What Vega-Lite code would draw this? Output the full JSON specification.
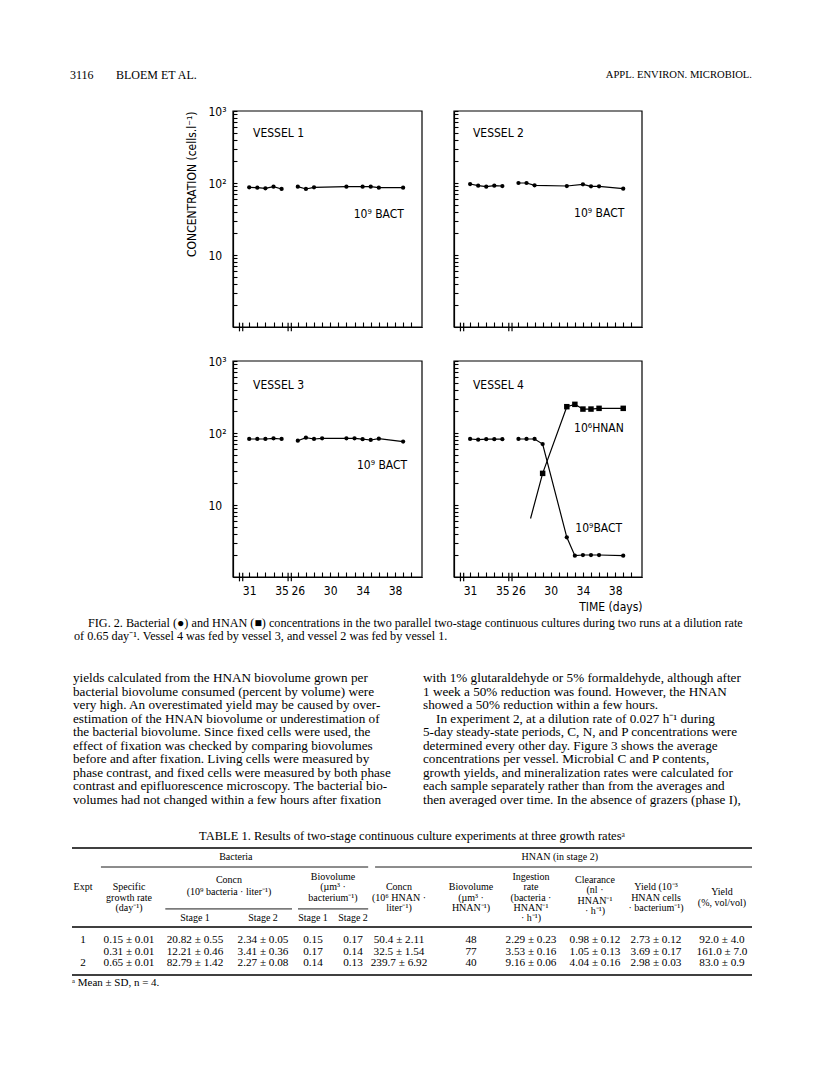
{
  "$schema": "https://vega.github.io/schema/vega-lite/v6.json",
  "background": "white",
  "padding": 0,
  "spacing": 0,
  "bounds": "flush",
  "config": {
    "view": {"stroke": null},
    "axis": {"domainColor": "black", "tickColor": "black", "labelColor": "black", "titleColor": "black", "grid": false, "domainWidth": 1.2, "tickWidth": 1.1},
    "text": {"color": "black"}
  },
  "datasets": {
    "hdr": [
      {"k": 0, "text": "3116"},
      {"k": 1, "text": "BLOEM ET AL."},
      {"k": 2, "text": "APPL. ENVIRON. MICROBIOL."}
    ],
    "one": [{"id": 1}],
    "series": [
      {"v": 1, "run": 1, "s": "BACT", "day": 31, "c": 87.1},
      {"v": 1, "run": 1, "s": "BACT", "day": 32, "c": 86.1},
      {"v": 1, "run": 1, "s": "BACT", "day": 33, "c": 84.4},
      {"v": 1, "run": 1, "s": "BACT", "day": 34, "c": 88.9},
      {"v": 1, "run": 1, "s": "BACT", "day": 35, "c": 82.6},
      {"v": 1, "run": 2, "s": "BACT", "day": 26, "c": 88.9},
      {"v": 1, "run": 2, "s": "BACT", "day": 27, "c": 82.6},
      {"v": 1, "run": 2, "s": "BACT", "day": 28, "c": 87.1},
      {"v": 1, "run": 2, "s": "BACT", "day": 32, "c": 88.9},
      {"v": 1, "run": 2, "s": "BACT", "day": 34, "c": 88.9},
      {"v": 1, "run": 2, "s": "BACT", "day": 35, "c": 88.9},
      {"v": 1, "run": 2, "s": "BACT", "day": 36, "c": 86.1},
      {"v": 1, "run": 2, "s": "BACT", "day": 39, "c": 86.1},
      {"v": 2, "run": 1, "s": "BACT", "day": 31, "c": 96.8},
      {"v": 2, "run": 1, "s": "BACT", "day": 32, "c": 91.8},
      {"v": 2, "run": 1, "s": "BACT", "day": 33, "c": 88.9},
      {"v": 2, "run": 1, "s": "BACT", "day": 34, "c": 91.8},
      {"v": 2, "run": 1, "s": "BACT", "day": 35, "c": 90.8},
      {"v": 2, "run": 2, "s": "BACT", "day": 26, "c": 100},
      {"v": 2, "run": 2, "s": "BACT", "day": 27, "c": 100},
      {"v": 2, "run": 2, "s": "BACT", "day": 28, "c": 92.9},
      {"v": 2, "run": 2, "s": "BACT", "day": 32, "c": 90.8},
      {"v": 2, "run": 2, "s": "BACT", "day": 34, "c": 95.9},
      {"v": 2, "run": 2, "s": "BACT", "day": 35, "c": 89.9},
      {"v": 2, "run": 2, "s": "BACT", "day": 36, "c": 89.9},
      {"v": 2, "run": 2, "s": "BACT", "day": 39, "c": 83.4},
      {"v": 3, "run": 1, "s": "BACT", "day": 31, "c": 82.6},
      {"v": 3, "run": 1, "s": "BACT", "day": 32, "c": 82.6},
      {"v": 3, "run": 1, "s": "BACT", "day": 33, "c": 82.6},
      {"v": 3, "run": 1, "s": "BACT", "day": 34, "c": 84.4},
      {"v": 3, "run": 1, "s": "BACT", "day": 35, "c": 82.6},
      {"v": 3, "run": 2, "s": "BACT", "day": 26, "c": 78.2},
      {"v": 3, "run": 2, "s": "BACT", "day": 27, "c": 86.1},
      {"v": 3, "run": 2, "s": "BACT", "day": 28, "c": 82.6},
      {"v": 3, "run": 2, "s": "BACT", "day": 29, "c": 84.4},
      {"v": 3, "run": 2, "s": "BACT", "day": 32, "c": 84.4},
      {"v": 3, "run": 2, "s": "BACT", "day": 33, "c": 84.4},
      {"v": 3, "run": 2, "s": "BACT", "day": 34, "c": 82},
      {"v": 3, "run": 2, "s": "BACT", "day": 35, "c": 80},
      {"v": 3, "run": 2, "s": "BACT", "day": 36, "c": 83.4},
      {"v": 3, "run": 2, "s": "BACT", "day": 39, "c": 75.9},
      {"v": 4, "run": 1, "s": "BACT", "day": 31, "c": 82.6},
      {"v": 4, "run": 1, "s": "BACT", "day": 32, "c": 80.8},
      {"v": 4, "run": 1, "s": "BACT", "day": 33, "c": 82},
      {"v": 4, "run": 1, "s": "BACT", "day": 34, "c": 82},
      {"v": 4, "run": 1, "s": "BACT", "day": 35, "c": 82},
      {"v": 4, "run": 2, "s": "BACT", "day": 26, "c": 82.6},
      {"v": 4, "run": 2, "s": "BACT", "day": 27, "c": 82.6},
      {"v": 4, "run": 2, "s": "BACT", "day": 28, "c": 82.6},
      {"v": 4, "run": 2, "s": "BACT", "day": 29, "c": 70.3},
      {"v": 4, "run": 2, "s": "BACT", "day": 32, "c": 3.56},
      {"v": 4, "run": 2, "s": "BACT", "day": 33, "c": 1.98},
      {"v": 4, "run": 2, "s": "BACT", "day": 34, "c": 2.02},
      {"v": 4, "run": 2, "s": "BACT", "day": 35, "c": 2.02},
      {"v": 4, "run": 2, "s": "BACT", "day": 36, "c": 2.02},
      {"v": 4, "run": 2, "s": "BACT", "day": 39, "c": 1.98},
      {"v": 4, "run": 2, "s": "HNAN", "day": 27.5, "c": 6.5},
      {"v": 4, "run": 2, "s": "HNAN", "day": 29, "c": 27.5},
      {"v": 4, "run": 2, "s": "HNAN", "day": 32, "c": 232},
      {"v": 4, "run": 2, "s": "HNAN", "day": 33, "c": 250},
      {"v": 4, "run": 2, "s": "HNAN", "day": 34, "c": 215},
      {"v": 4, "run": 2, "s": "HNAN", "day": 35, "c": 215},
      {"v": 4, "run": 2, "s": "HNAN", "day": 36, "c": 220},
      {"v": 4, "run": 2, "s": "HNAN", "day": 39, "c": 220}
    ],
    "ann": [
      {"v": 1, "text": "VESSEL 1", "d": 20.47, "c": 494},
      {"v": 1, "text": "10⁹ BACT", "d": 32.9, "c": 37},
      {"v": 2, "text": "VESSEL 2", "d": 20.35, "c": 494},
      {"v": 2, "text": "10⁹ BACT", "d": 32.9, "c": 38},
      {"v": 3, "text": "VESSEL 3", "d": 20.47, "c": 464},
      {"v": 3, "text": "10⁹ BACT", "d": 33.3, "c": 36},
      {"v": 4, "text": "VESSEL 4", "d": 20.35, "c": 464},
      {"v": 4, "text": "10⁶HNAN", "d": 32.9, "c": 117},
      {"v": 4, "text": "10⁹BACT", "d": 33.06, "c": 4.8}
    ],
    "brk": [{"b": 29.8}, {"b": 30.2}, {"b": 35.8}, {"b": 36.2}],
    "cap": [
      {"ln": 1, "text": "FIG. 2. Bacterial (●) and HNAN (■) concentrations in the two parallel two-stage continuous cultures during two runs at a dilution rate"},
      {"ln": 2, "text": "of 0.65 day⁻¹. Vessel 4 was fed by vessel 3, and vessel 2 was fed by vessel 1."}
    ],
    "body": [
      {"col": 0, "ln": 1, "text": "yields calculated from the HNAN biovolume grown per"},
      {"col": 0, "ln": 2, "text": "bacterial biovolume consumed (percent by volume) were"},
      {"col": 0, "ln": 3, "text": "very high. An overestimated yield may be caused by over-"},
      {"col": 0, "ln": 4, "text": "estimation of the HNAN biovolume or underestimation of"},
      {"col": 0, "ln": 5, "text": "the bacterial biovolume. Since fixed cells were used, the"},
      {"col": 0, "ln": 6, "text": "effect of fixation was checked by comparing biovolumes"},
      {"col": 0, "ln": 7, "text": "before and after fixation. Living cells were measured by"},
      {"col": 0, "ln": 8, "text": "phase contrast, and fixed cells were measured by both phase"},
      {"col": 0, "ln": 9, "text": "contrast and epifluorescence microscopy. The bacterial bio-"},
      {"col": 0, "ln": 10, "text": "volumes had not changed within a few hours after fixation"},
      {"col": 1, "ln": 1, "text": "with 1% glutaraldehyde or 5% formaldehyde, although after"},
      {"col": 1, "ln": 2, "text": "1 week a 50% reduction was found. However, the HNAN"},
      {"col": 1, "ln": 3, "text": "showed a 50% reduction within a few hours."},
      {"col": 1, "ln": 4, "text": "In experiment 2, at a dilution rate of 0.027 h⁻¹ during"},
      {"col": 1, "ln": 5, "text": "5-day steady-state periods, C, N, and P concentrations were"},
      {"col": 1, "ln": 6, "text": "determined every other day. Figure 3 shows the average"},
      {"col": 1, "ln": 7, "text": "concentrations per vessel. Microbial C and P contents,"},
      {"col": 1, "ln": 8, "text": "growth yields, and mineralization rates were calculated for"},
      {"col": 1, "ln": 9, "text": "each sample separately rather than from the averages and"},
      {"col": 1, "ln": 10, "text": "then averaged over time. In the absence of grazers (phase I),"}
    ],
    "tbl": [
      {"kind": "title", "r": 0, "c": 6.18, "text": "TABLE 1. Results of two-stage continuous culture experiments at three growth ratesᵃ"},
      {"kind": "group", "r": 2, "c": 2.6, "text": "Bacteria"},
      {"kind": "group", "r": 2, "c": 8.45, "text": "HNAN (in stage 2)"},
      {"kind": "head", "r": 5, "c": 0, "text": "Expt"},
      {"kind": "head", "r": 5, "c": 1, "text": "Specific"},
      {"kind": "head", "r": 6, "c": 1, "text": "growth rate"},
      {"kind": "head", "r": 7, "c": 1, "text": "(day⁻¹)"},
      {"kind": "head", "r": 4.3, "c": 2.5, "text": "Concn"},
      {"kind": "head", "r": 5.5, "c": 2.5, "text": "(10⁹ bacteria · liter⁻¹)"},
      {"kind": "head", "r": 4, "c": 4.5, "text": "Biovolume"},
      {"kind": "head", "r": 5, "c": 4.5, "text": "(µm³ ·"},
      {"kind": "head", "r": 6, "c": 4.5, "text": "bacterium⁻¹)"},
      {"kind": "head", "r": 8, "c": 2, "text": "Stage 1"},
      {"kind": "head", "r": 8, "c": 3, "text": "Stage 2"},
      {"kind": "head", "r": 8, "c": 4, "text": "Stage 1"},
      {"kind": "head", "r": 8, "c": 5, "text": "Stage 2"},
      {"kind": "head", "r": 5, "c": 6, "text": "Concn"},
      {"kind": "head", "r": 6, "c": 6, "text": "(10⁶ HNAN ·"},
      {"kind": "head", "r": 7, "c": 6, "text": "liter⁻¹)"},
      {"kind": "head", "r": 5, "c": 7, "text": "Biovolume"},
      {"kind": "head", "r": 6, "c": 7, "text": "(µm³ ·"},
      {"kind": "head", "r": 7, "c": 7, "text": "HNAN⁻¹)"},
      {"kind": "head", "r": 4, "c": 8, "text": "Ingestion"},
      {"kind": "head", "r": 5, "c": 8, "text": "rate"},
      {"kind": "head", "r": 6, "c": 8, "text": "(bacteria ·"},
      {"kind": "head", "r": 7, "c": 8, "text": "HNAN⁻¹"},
      {"kind": "head", "r": 8, "c": 8, "text": "· h⁻¹)"},
      {"kind": "head", "r": 4.3, "c": 9, "text": "Clearance"},
      {"kind": "head", "r": 5.3, "c": 9, "text": "(nl ·"},
      {"kind": "head", "r": 6.3, "c": 9, "text": "HNAN⁻¹"},
      {"kind": "head", "r": 7.3, "c": 9, "text": "· h⁻¹)"},
      {"kind": "head", "r": 5, "c": 10, "text": "Yield (10⁻³"},
      {"kind": "head", "r": 6, "c": 10, "text": "HNAN cells"},
      {"kind": "head", "r": 7, "c": 10, "text": "· bacterium⁻¹)"},
      {"kind": "head", "r": 5.5, "c": 11, "text": "Yield"},
      {"kind": "head", "r": 6.5, "c": 11, "text": "(%, vol/vol)"},
      {"kind": "data", "r": 10, "c": 0, "text": "1"},
      {"kind": "data", "r": 10, "c": 1, "text": "0.15 ± 0.01"},
      {"kind": "data", "r": 10, "c": 2, "text": "20.82 ± 0.55"},
      {"kind": "data", "r": 10, "c": 3, "text": "2.34 ± 0.05"},
      {"kind": "data", "r": 10, "c": 4, "text": "0.15"},
      {"kind": "data", "r": 10, "c": 5, "text": "0.17"},
      {"kind": "data", "r": 10, "c": 6, "text": "50.4 ± 2.11"},
      {"kind": "data", "r": 10, "c": 7, "text": "48"},
      {"kind": "data", "r": 10, "c": 8, "text": "2.29 ± 0.23"},
      {"kind": "data", "r": 10, "c": 9, "text": "0.98 ± 0.12"},
      {"kind": "data", "r": 10, "c": 10, "text": "2.73 ± 0.12"},
      {"kind": "data", "r": 10, "c": 11, "text": "92.0 ± 4.0"},
      {"kind": "data", "r": 11, "c": 1, "text": "0.31 ± 0.01"},
      {"kind": "data", "r": 11, "c": 2, "text": "12.21 ± 0.46"},
      {"kind": "data", "r": 11, "c": 3, "text": "3.41 ± 0.36"},
      {"kind": "data", "r": 11, "c": 4, "text": "0.17"},
      {"kind": "data", "r": 11, "c": 5, "text": "0.14"},
      {"kind": "data", "r": 11, "c": 6, "text": "32.5 ± 1.54"},
      {"kind": "data", "r": 11, "c": 7, "text": "77"},
      {"kind": "data", "r": 11, "c": 8, "text": "3.53 ± 0.16"},
      {"kind": "data", "r": 11, "c": 9, "text": "1.05 ± 0.13"},
      {"kind": "data", "r": 11, "c": 10, "text": "3.69 ± 0.17"},
      {"kind": "data", "r": 11, "c": 11, "text": "161.0 ± 7.0"},
      {"kind": "data", "r": 12, "c": 0, "text": "2"},
      {"kind": "data", "r": 12, "c": 1, "text": "0.65 ± 0.01"},
      {"kind": "data", "r": 12, "c": 2, "text": "82.79 ± 1.42"},
      {"kind": "data", "r": 12, "c": 3, "text": "2.27 ± 0.08"},
      {"kind": "data", "r": 12, "c": 4, "text": "0.14"},
      {"kind": "data", "r": 12, "c": 5, "text": "0.13"},
      {"kind": "data", "r": 12, "c": 6, "text": "239.7 ± 6.92"},
      {"kind": "data", "r": 12, "c": 7, "text": "40"},
      {"kind": "data", "r": 12, "c": 8, "text": "9.16 ± 0.06"},
      {"kind": "data", "r": 12, "c": 9, "text": "4.04 ± 0.16"},
      {"kind": "data", "r": 12, "c": 10, "text": "2.98 ± 0.03"},
      {"kind": "data", "r": 12, "c": 11, "text": "83.0 ± 0.9"},
      {"kind": "foot", "r": 14, "c": -1, "text": "ᵃ Mean ± SD, n = 4."}
    ],
    "rules": [
      {"kind": "full", "r": 1, "c": -1, "c2": 12},
      {"kind": "full", "r": 9, "c": -1, "c2": 12},
      {"kind": "full", "r": 13, "c": -1, "c2": 12},
      {"kind": "part", "r": 3, "c": 0.39, "c2": 5.33},
      {"kind": "part", "r": 3, "c": 5.48, "c2": 12},
      {"kind": "part", "r": 7.1, "c": 1.55, "c2": 3.58},
      {"kind": "part", "r": 7.1, "c": 3.7, "c2": 5.33}
    ]
  },
  "vconcat": [
    {
      "width": 816, "height": 111,
      "data": {"name": "hdr"},
      "encoding": {
        "x": {"field": "k", "type": "quantitative", "scale": {"domain": [0, 1, 2], "range": [70, 116, 752]}, "axis": null},
        "y": {"datum": 0, "type": "quantitative", "scale": {"domain": [0, 1], "range": [75, 100]}, "axis": null},
        "text": {"field": "text"}
      },
      "layer": [
        {"transform": [{"filter": "datum.k < 2"}], "mark": {"type": "text", "align": "left", "baseline": "middle", "font": "Liberation Serif", "fontSize": 12}},
        {"transform": [{"filter": "datum.k == 2"}], "mark": {"type": "text", "align": "right", "baseline": "middle", "font": "Liberation Serif", "fontSize": 10.6}}
      ]
    },
    {
      "width": 816, "height": 216,
      "layer": [
        {"data": {"name": "one"},
          "mark": {"type": "rect", "filled": false, "color": "black", "strokeWidth": 1.2},
          "encoding": {
            "x": {"datum": 29, "type": "quantitative", "scale": {"domain": [29, 52.33], "range": [233, 422], "nice": false, "zero": false},
              "axis": {"orient": "bottom", "values": [31,32,33,34,35], "labels": false, "tickSize": -5, "title": null}},
            "x2": {"datum": 52.33},
            "y": {"datum": 1, "type": "quantitative", "scale": {"type": "log", "domain": [1, 1000], "nice": false},
              "axis": {"orient": "left", "offset": -233, "values": [1,2,3,4,5,6,7,8,9,10,20,30,40,50,60,70,80,90,100,200,300,400,500,600,700,800,900,1000],
                "labelExpr": "datum.value == 10 ? '10' : datum.value == 100 ? '10²' : datum.value == 1000 ? '10³' : ''",
                "tickSize": -4, "labelAlign": "left", "labelPadding": 29, "labelFont": "DejaVu Sans Condensed, DejaVu Sans", "labelFontSize": 12,
                "labelOverlap": false, "labelFlush": false, "labelBound": false,
                "title": "CONCENTRATION (cells.l⁻¹)", "titleFont": "DejaVu Sans Condensed, DejaVu Sans", "titleFontSize": 12, "titleFontWeight": "normal", "titleAnchor": "end", "titlePadding": 10}},
            "y2": {"datum": 1000}
          }},
        {"data": {"name": "series"}, "transform": [{"filter": "datum.v == 1 && datum.run == 1"}],
          "encoding": {
            "x": {"field": "day", "type": "quantitative", "scale": {"domain": [29, 52.33], "range": [233, 422], "nice": false, "zero": false}, "axis": null},
            "y": {"field": "c", "type": "quantitative", "scale": {"type": "log", "domain": [1, 1000], "nice": false}, "axis": null}},
          "layer": [
            {"mark": {"type": "line", "color": "black", "strokeWidth": 1.2}},
            {"mark": {"type": "point", "shape": "circle", "filled": true, "color": "black", "opacity": 1, "size": 18}}
          ]},
        {"data": {"name": "series"}, "transform": [{"filter": "datum.v == 1 && datum.run == 2"}],
          "encoding": {
            "x": {"field": "day", "type": "quantitative", "scale": {"domain": [18, 41.33], "range": [233, 422], "nice": false, "zero": false},
              "axis": {"orient": "bottom", "values": [26,27,28,29,30,31,32,33,34,35,36,37,38,39,40], "labels": false, "tickSize": -5, "title": null}},
            "y": {"field": "c", "type": "quantitative", "scale": {"type": "log", "domain": [1, 1000], "nice": false}, "axis": null}},
          "layer": [
            {"mark": {"type": "line", "color": "black", "strokeWidth": 1.2}},
            {"mark": {"type": "point", "shape": "circle", "filled": true, "color": "black", "opacity": 1, "size": 18}}
          ]},
        {"data": {"name": "ann"}, "transform": [{"filter": "datum.v == 1"}],
          "mark": {"type": "text", "align": "left", "baseline": "middle", "font": "DejaVu Sans Condensed, DejaVu Sans", "fontSize": 12},
          "encoding": {
            "x": {"field": "d", "type": "quantitative", "scale": {"domain": [18, 41.33], "range": [233, 422], "nice": false, "zero": false}, "axis": null},
            "y": {"field": "c", "type": "quantitative", "scale": {"type": "log", "domain": [1, 1000], "nice": false}, "axis": null},
            "text": {"field": "text"}}},
        {"data": {"name": "brk"},
          "mark": {"type": "rule", "color": "black", "strokeWidth": 1.2},
          "encoding": {
            "x": {"field": "b", "type": "quantitative", "scale": {"domain": [29, 52.33], "range": [233, 422], "nice": false, "zero": false}, "axis": null},
            "y": {"datum": 0.87, "type": "quantitative", "scale": {"type": "log", "domain": [1, 1000], "nice": false}, "axis": null},
            "y2": {"datum": 1.15}}},
        {"data": {"name": "one"},
          "mark": {"type": "rect", "filled": false, "color": "black", "strokeWidth": 1.2},
          "encoding": {
            "x": {"datum": 29, "type": "quantitative", "scale": {"domain": [29, 52.33], "range": [454, 642], "nice": false, "zero": false},
              "axis": {"orient": "bottom", "values": [31,32,33,34,35], "labels": false, "tickSize": -5, "title": null}},
            "x2": {"datum": 52.33},
            "y": {"datum": 1, "type": "quantitative", "scale": {"type": "log", "domain": [1, 1000], "nice": false},
              "axis": {"orient": "left", "offset": -454, "values": [1,2,3,4,5,6,7,8,9,10,20,30,40,50,60,70,80,90,100,200,300,400,500,600,700,800,900,1000],
                "labels": false, "tickSize": -4, "title": null}},
            "y2": {"datum": 1000}
          }},
        {"data": {"name": "series"}, "transform": [{"filter": "datum.v == 2 && datum.run == 1"}],
          "encoding": {
            "x": {"field": "day", "type": "quantitative", "scale": {"domain": [29, 52.33], "range": [454, 642], "nice": false, "zero": false}, "axis": null},
            "y": {"field": "c", "type": "quantitative", "scale": {"type": "log", "domain": [1, 1000], "nice": false}, "axis": null}},
          "layer": [
            {"mark": {"type": "line", "color": "black", "strokeWidth": 1.2}},
            {"mark": {"type": "point", "shape": "circle", "filled": true, "color": "black", "opacity": 1, "size": 18}}
          ]},
        {"data": {"name": "series"}, "transform": [{"filter": "datum.v == 2 && datum.run == 2"}],
          "encoding": {
            "x": {"field": "day", "type": "quantitative", "scale": {"domain": [18, 41.33], "range": [454, 642], "nice": false, "zero": false},
              "axis": {"orient": "bottom", "values": [26,27,28,29,30,31,32,33,34,35,36,37,38,39,40], "labels": false, "tickSize": -5, "title": null}},
            "y": {"field": "c", "type": "quantitative", "scale": {"type": "log", "domain": [1, 1000], "nice": false}, "axis": null}},
          "layer": [
            {"mark": {"type": "line", "color": "black", "strokeWidth": 1.2}},
            {"mark": {"type": "point", "shape": "circle", "filled": true, "color": "black", "opacity": 1, "size": 18}}
          ]},
        {"data": {"name": "ann"}, "transform": [{"filter": "datum.v == 2"}],
          "mark": {"type": "text", "align": "left", "baseline": "middle", "font": "DejaVu Sans Condensed, DejaVu Sans", "fontSize": 12},
          "encoding": {
            "x": {"field": "d", "type": "quantitative", "scale": {"domain": [18, 41.33], "range": [454, 642], "nice": false, "zero": false}, "axis": null},
            "y": {"field": "c", "type": "quantitative", "scale": {"type": "log", "domain": [1, 1000], "nice": false}, "axis": null},
            "text": {"field": "text"}}},
        {"data": {"name": "brk"},
          "mark": {"type": "rule", "color": "black", "strokeWidth": 1.2},
          "encoding": {
            "x": {"field": "b", "type": "quantitative", "scale": {"domain": [29, 52.33], "range": [454, 642], "nice": false, "zero": false}, "axis": null},
            "y": {"datum": 0.87, "type": "quantitative", "scale": {"type": "log", "domain": [1, 1000], "nice": false}, "axis": null},
            "y2": {"datum": 1.15}}}
      ],
      "resolve": {"scale": {"x": "independent", "y": "independent"}, "axis": {"x": "independent", "y": "independent"}}
    },
    {"width": 816, "height": 34, "data": {"values": []}, "mark": "point"},
    {
      "width": 816, "height": 216,
      "layer": [
        {"data": {"name": "one"},
          "mark": {"type": "rect", "filled": false, "color": "black", "strokeWidth": 1.2},
          "encoding": {
            "x": {"datum": 29, "type": "quantitative", "scale": {"domain": [29, 52.33], "range": [233, 422], "nice": false, "zero": false},
              "axis": {"orient": "bottom", "values": [31,32,33,34,35], "labelExpr": "datum.value == 31 || datum.value == 35 ? datum.label : ''",
                "tickSize": -5, "labelPadding": 13, "labelFont": "DejaVu Sans Condensed, DejaVu Sans", "labelFontSize": 12, "labelFlush": false, "labelOverlap": false, "title": null}},
            "x2": {"datum": 52.33},
            "y": {"datum": 1, "type": "quantitative", "scale": {"type": "log", "domain": [1, 1000], "nice": false},
              "axis": {"orient": "left", "offset": -233, "values": [1,2,3,4,5,6,7,8,9,10,20,30,40,50,60,70,80,90,100,200,300,400,500,600,700,800,900,1000],
                "labelExpr": "datum.value == 10 ? '10' : datum.value == 100 ? '10²' : datum.value == 1000 ? '10³' : ''",
                "tickSize": -4, "labelAlign": "left", "labelPadding": 29, "labelFont": "DejaVu Sans Condensed, DejaVu Sans", "labelFontSize": 12,
                "labelOverlap": false, "labelFlush": false, "labelBound": false, "title": null}},
            "y2": {"datum": 1000}
          }},
        {"data": {"name": "series"}, "transform": [{"filter": "datum.v == 3 && datum.run == 1"}],
          "encoding": {
            "x": {"field": "day", "type": "quantitative", "scale": {"domain": [29, 52.33], "range": [233, 422], "nice": false, "zero": false}, "axis": null},
            "y": {"field": "c", "type": "quantitative", "scale": {"type": "log", "domain": [1, 1000], "nice": false}, "axis": null}},
          "layer": [
            {"mark": {"type": "line", "color": "black", "strokeWidth": 1.2}},
            {"mark": {"type": "point", "shape": "circle", "filled": true, "color": "black", "opacity": 1, "size": 18}}
          ]},
        {"data": {"name": "series"}, "transform": [{"filter": "datum.v == 3 && datum.run == 2"}],
          "encoding": {
            "x": {"field": "day", "type": "quantitative", "scale": {"domain": [18, 41.33], "range": [233, 422], "nice": false, "zero": false},
              "axis": {"orient": "bottom", "values": [26,27,28,29,30,31,32,33,34,35,36,37,38,39,40], "labelExpr": "(datum.value - 26) % 4 == 0 ? datum.label : ''",
                "tickSize": -5, "labelPadding": 13, "labelFont": "DejaVu Sans Condensed, DejaVu Sans", "labelFontSize": 12, "labelFlush": false, "labelOverlap": false, "title": null}},
            "y": {"field": "c", "type": "quantitative", "scale": {"type": "log", "domain": [1, 1000], "nice": false}, "axis": null}},
          "layer": [
            {"mark": {"type": "line", "color": "black", "strokeWidth": 1.2}},
            {"mark": {"type": "point", "shape": "circle", "filled": true, "color": "black", "opacity": 1, "size": 18}}
          ]},
        {"data": {"name": "ann"}, "transform": [{"filter": "datum.v == 3"}],
          "mark": {"type": "text", "align": "left", "baseline": "middle", "font": "DejaVu Sans Condensed, DejaVu Sans", "fontSize": 12},
          "encoding": {
            "x": {"field": "d", "type": "quantitative", "scale": {"domain": [18, 41.33], "range": [233, 422], "nice": false, "zero": false}, "axis": null},
            "y": {"field": "c", "type": "quantitative", "scale": {"type": "log", "domain": [1, 1000], "nice": false}, "axis": null},
            "text": {"field": "text"}}},
        {"data": {"name": "brk"},
          "mark": {"type": "rule", "color": "black", "strokeWidth": 1.2},
          "encoding": {
            "x": {"field": "b", "type": "quantitative", "scale": {"domain": [29, 52.33], "range": [233, 422], "nice": false, "zero": false}, "axis": null},
            "y": {"datum": 0.87, "type": "quantitative", "scale": {"type": "log", "domain": [1, 1000], "nice": false}, "axis": null},
            "y2": {"datum": 1.15}}},
        {"data": {"name": "one"},
          "mark": {"type": "rect", "filled": false, "color": "black", "strokeWidth": 1.2},
          "encoding": {
            "x": {"datum": 29, "type": "quantitative", "scale": {"domain": [29, 52.33], "range": [454, 642], "nice": false, "zero": false},
              "axis": {"orient": "bottom", "values": [31,32,33,34,35], "labelExpr": "datum.value == 31 || datum.value == 35 ? datum.label : ''",
                "tickSize": -5, "labelPadding": 13, "labelFont": "DejaVu Sans Condensed, DejaVu Sans", "labelFontSize": 12, "labelFlush": false, "labelOverlap": false, "title": null}},
            "x2": {"datum": 52.33},
            "y": {"datum": 1, "type": "quantitative", "scale": {"type": "log", "domain": [1, 1000], "nice": false},
              "axis": {"orient": "left", "offset": -454, "values": [1,2,3,4,5,6,7,8,9,10,20,30,40,50,60,70,80,90,100,200,300,400,500,600,700,800,900,1000],
                "labels": false, "tickSize": -4, "title": null}},
            "y2": {"datum": 1000}
          }},
        {"data": {"name": "series"}, "transform": [{"filter": "datum.v == 4 && datum.run == 1"}],
          "encoding": {
            "x": {"field": "day", "type": "quantitative", "scale": {"domain": [29, 52.33], "range": [454, 642], "nice": false, "zero": false}, "axis": null},
            "y": {"field": "c", "type": "quantitative", "scale": {"type": "log", "domain": [1, 1000], "nice": false}, "axis": null}},
          "layer": [
            {"mark": {"type": "line", "color": "black", "strokeWidth": 1.2}},
            {"mark": {"type": "point", "shape": "circle", "filled": true, "color": "black", "opacity": 1, "size": 18}}
          ]},
        {"data": {"name": "series"}, "transform": [{"filter": "datum.v == 4 && datum.run == 2"}],
          "encoding": {
            "x": {"field": "day", "type": "quantitative", "scale": {"domain": [18, 41.33], "range": [454, 642], "nice": false, "zero": false},
              "axis": {"orient": "bottom", "values": [26,27,28,29,30,31,32,33,34,35,36,37,38,39,40], "labelExpr": "(datum.value - 26) % 4 == 0 ? datum.label : ''",
                "tickSize": -5, "labelPadding": 13, "labelFont": "DejaVu Sans Condensed, DejaVu Sans", "labelFontSize": 12, "labelFlush": false, "labelOverlap": false,
                "title": "TIME (days)", "titleAnchor": "end", "titleFont": "DejaVu Sans Condensed, DejaVu Sans", "titleFontSize": 12, "titleFontWeight": "normal", "titlePadding": 5}},
            "y": {"field": "c", "type": "quantitative", "scale": {"type": "log", "domain": [1, 1000], "nice": false}, "axis": null}},
          "layer": [
            {"mark": {"type": "line", "color": "black", "strokeWidth": 1.2}, "encoding": {"detail": {"field": "s"}}},
            {"transform": [{"filter": "datum.s == 'BACT' || datum.day >= 29"}],
              "mark": {"type": "point", "filled": true, "color": "black", "opacity": 1},
              "encoding": {
                "shape": {"field": "s", "type": "nominal", "scale": {"domain": ["BACT", "HNAN"], "range": ["circle", "square"]}, "legend": null},
                "size": {"field": "s", "type": "nominal", "scale": {"domain": ["BACT", "HNAN"], "range": [18, 30]}, "legend": null}}}
          ]},
        {"data": {"name": "ann"}, "transform": [{"filter": "datum.v == 4"}],
          "mark": {"type": "text", "align": "left", "baseline": "middle", "font": "DejaVu Sans Condensed, DejaVu Sans", "fontSize": 12},
          "encoding": {
            "x": {"field": "d", "type": "quantitative", "scale": {"domain": [18, 41.33], "range": [454, 642], "nice": false, "zero": false}, "axis": null},
            "y": {"field": "c", "type": "quantitative", "scale": {"type": "log", "domain": [1, 1000], "nice": false}, "axis": null},
            "text": {"field": "text"}}},
        {"data": {"name": "brk"},
          "mark": {"type": "rule", "color": "black", "strokeWidth": 1.2},
          "encoding": {
            "x": {"field": "b", "type": "quantitative", "scale": {"domain": [29, 52.33], "range": [454, 642], "nice": false, "zero": false}, "axis": null},
            "y": {"datum": 0.87, "type": "quantitative", "scale": {"type": "log", "domain": [1, 1000], "nice": false}, "axis": null},
            "y2": {"datum": 1.15}}}
      ],
      "resolve": {"scale": {"x": "independent", "y": "independent"}, "axis": {"x": "independent", "y": "independent"}}
    },
    {
      "width": 816, "height": 498,
      "layer": [
        {"data": {"name": "cap"},
          "mark": {"type": "text", "align": "left", "baseline": "middle", "font": "Liberation Serif", "fontSize": 12.2},
          "encoding": {
            "x": {"field": "ln", "type": "quantitative", "scale": {"domain": [1, 2], "range": [88, 74]}, "axis": null},
            "y": {"field": "ln", "type": "quantitative", "scale": {"domain": [1, 2], "range": [46, 59]}, "axis": null},
            "text": {"field": "text"}}},
        {"data": {"name": "body"},
          "transform": [{"filter": "!(datum.col == 1 && datum.ln == 4)"}],
          "mark": {"type": "text", "align": "left", "baseline": "middle", "font": "Liberation Serif", "fontSize": 13.2},
          "encoding": {
            "x": {"field": "col", "type": "quantitative", "scale": {"domain": [0, 1], "range": [73, 423]}, "axis": null},
            "y": {"field": "ln", "type": "quantitative", "scale": {"domain": [1, 10], "range": [101, 223]}, "axis": null},
            "text": {"field": "text"}}},
        {"data": {"name": "body"},
          "transform": [{"filter": "datum.col == 1 && datum.ln == 4"}],
          "mark": {"type": "text", "align": "left", "baseline": "middle", "font": "Liberation Serif", "fontSize": 13.2},
          "encoding": {
            "x": {"field": "col", "type": "quantitative", "scale": {"domain": [0, 1], "range": [86, 436]}, "axis": null},
            "y": {"field": "ln", "type": "quantitative", "scale": {"domain": [1, 10], "range": [101, 223]}, "axis": null},
            "text": {"field": "text"}}},
        {"data": {"name": "tbl"},
          "encoding": {
            "x": {"field": "c", "type": "quantitative", "scale": {"domain": [-1,0,1,2,3,4,5,6,7,8,9,10,11,12], "range": [72,83,129,195,263,313,353,399,471,531,595,656,722,752]}, "axis": null},
            "y": {"field": "r", "type": "quantitative", "scale": {"domain": [0,1,2,3,4,8,9,10,12,13,14], "range": [259,271,280,290,300,341.2,350,363,386,398,406]}, "axis": null},
            "text": {"field": "text"}},
          "layer": [
            {"transform": [{"filter": "datum.kind == 'title'"}], "mark": {"type": "text", "align": "center", "baseline": "middle", "font": "Liberation Serif", "fontSize": 12.5}},
            {"transform": [{"filter": "datum.kind == 'group' || datum.kind == 'head'"}], "mark": {"type": "text", "align": "center", "baseline": "middle", "font": "Liberation Serif", "fontSize": 10}},
            {"transform": [{"filter": "datum.kind == 'data'"}], "mark": {"type": "text", "align": "center", "baseline": "middle", "font": "Liberation Serif", "fontSize": 11.2}},
            {"transform": [{"filter": "datum.kind == 'foot'"}], "mark": {"type": "text", "align": "left", "baseline": "middle", "font": "Liberation Serif", "fontSize": 11}}
          ]},
        {"data": {"name": "rules"},
          "encoding": {
            "x": {"field": "c", "type": "quantitative", "scale": {"domain": [-1,0,1,2,3,4,5,6,7,8,9,10,11,12], "range": [72,83,129,195,263,313,353,399,471,531,595,656,722,752]}, "axis": null},
            "x2": {"field": "c2"},
            "y": {"field": "r", "type": "quantitative", "scale": {"domain": [0,1,2,3,4,8,9,10,12,13,14], "range": [259,271,280,290,300,341.2,350,363,386,398,406]}, "axis": null}},
          "layer": [
            {"transform": [{"filter": "datum.kind == 'full'"}], "mark": {"type": "rule", "color": "black", "strokeWidth": 1.4}},
            {"transform": [{"filter": "datum.kind == 'part'"}], "mark": {"type": "rule", "color": "black", "strokeWidth": 0.9}}
          ]}
      ],
      "resolve": {"scale": {"x": "independent", "y": "independent"}}
    }
  ]
}
